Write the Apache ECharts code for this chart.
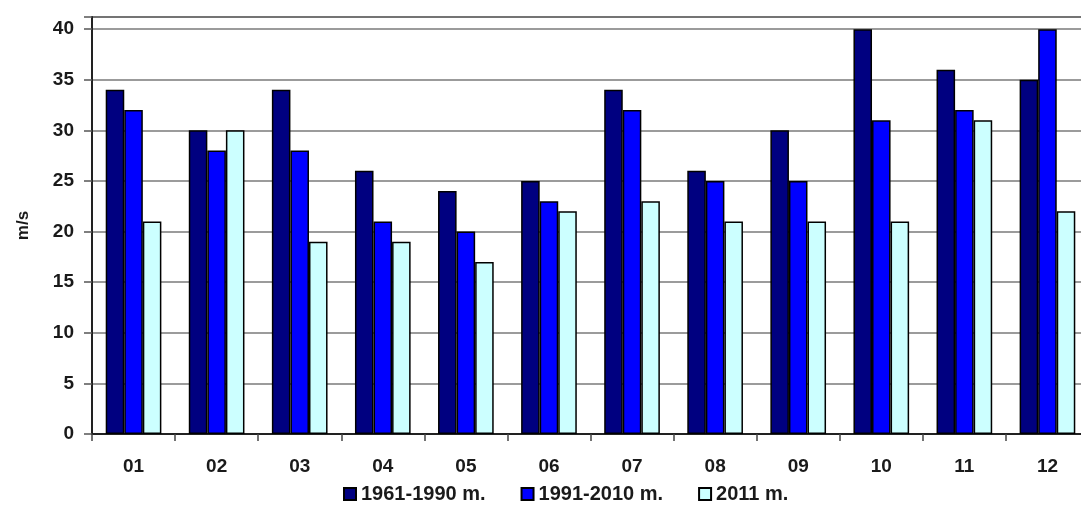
<!DOCTYPE html>
<html>
<head>
<meta charset="utf-8">
<script src="https://cdn.jsdelivr.net/npm/echarts@6/dist/echarts.min.js"></script>
<style>
  html, body { margin: 0; padding: 0; background: #fff; overflow: hidden; }
  /* plot area runs slightly past the right edge of the page */
  #chart { width: 1089px; height: 507px; }
</style>
</head>
<body>
<div id="chart"></div>
<script>
// Monthly maximum wind gusts (m/s)
const months = ['01', '02', '03', '04', '05', '06', '07', '08', '09', '10', '11', '12'];
const seriesNames = ['1961-1990 m.', '1991-2010 m.', '2011 m.'];
const period1961_1990 = [34, 30, 34, 26, 24, 25, 34, 26, 30, 40, 36, 35];
const period1991_2010 = [32, 28, 28, 21, 20, 23, 32, 25, 25, 31, 32, 40];
const year2011 = [21, 30, 19, 19, 17, 22, 23, 21, 21, 21, 31, 22];
const yTicks = [0, 5, 10, 15, 20, 25, 30, 35, 40];

const colors = ['#000080', '#0000ff', '#ccffff'];
const textColor = '#1a1a1a';
const font = 'Liberation Sans, Arial, sans-serif';

const values = [period1961_1990, period1991_2010, year2011];

const chart = echarts.init(document.getElementById('chart'), null, { renderer: 'canvas' });
chart.setOption({
  animation: false,
  grid: {
    left: 92, right: 0, top: 17, bottom: 73,
    show: true, borderColor: '#333', borderWidth: 1.5, backgroundColor: 'transparent'
  },
  legend: {
    bottom: 3,
    left: 343,
    padding: 0,
    itemWidth: 12, itemHeight: 12, itemGap: 35,
    icon: 'rect',
    textStyle: { fontFamily: font, fontWeight: 'bold', fontSize: 20, color: textColor },
    data: seriesNames
  },
  xAxis: {
    type: 'category',
    data: months,
    axisLine: { lineStyle: { color: '#222', width: 2 } },
    axisTick: { show: true, length: 7, inside: false, alignWithLabel: false, lineStyle: { color: '#444', width: 1.5 } },
    axisLabel: { fontFamily: font, fontWeight: 'bold', fontSize: 19, color: textColor, margin: 23 }
  },
  yAxis: {
    type: 'value',
    min: 0, max: 41.2, interval: 5,
    name: 'm/s',
    nameLocation: 'middle',
    nameGap: 60,
    nameRotate: 90,
    nameTextStyle: { fontFamily: font, fontWeight: 'bold', fontSize: 17, color: textColor },
    axisLine: { show: true, lineStyle: { color: '#222', width: 2 } },
    axisTick: { show: true, length: 8, lineStyle: { color: '#555', width: 1.5 } },
    axisLabel: {
      fontFamily: font, fontWeight: 'bold', fontSize: 19, color: textColor, margin: 18,
      formatter: v => (yTicks.indexOf(v) >= 0 ? String(v) : '')
    },
    splitLine: { show: true, lineStyle: { color: '#7a7a7a', width: 1.5 } }
  },
  series: seriesNames.map((name, i) => ({
    name,
    type: 'bar',
    data: values[i],
    barGap: '0%',
    barCategoryGap: '33%',
    itemStyle: { color: colors[i], borderColor: '#000', borderWidth: 1.5 }
  }))
});
</script>
</body>
</html>
